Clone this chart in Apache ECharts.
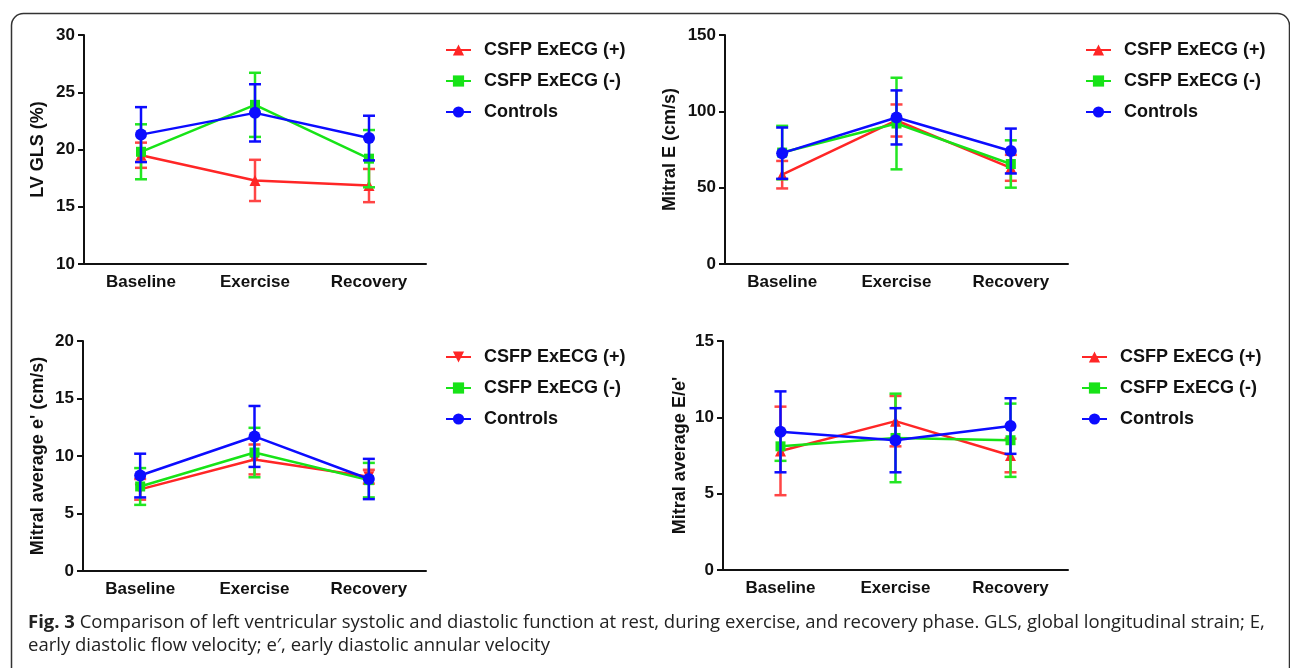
<!DOCTYPE html>
<html>
<head>
<meta charset="utf-8">
<script src="https://cdn.jsdelivr.net/npm/echarts@6/dist/echarts.min.js"></script>
<style>
html,body{margin:0;padding:0;background:#fff;}
#chart{width:1290px;height:668px;}
</style>
</head>
<body>
<div id="chart"></div>
<script>
// ---- Data ----
const categories = ['Baseline', 'Exercise', 'Recovery'];
const groupNames = ['CSFP ExECG (+)', 'CSFP ExECG (-)', 'Controls'];

// Panel A: LV GLS (%)
const glsPos = [19.5, 17.3, 16.85];
const glsPosSD = [1.1, 1.8, 1.45];
const glsNeg = [19.8, 23.9, 19.2];
const glsNegSD = [2.4, 2.8, 2.5];
const glsCtl = [21.3, 23.2, 21.0];
const glsCtlSD = [2.4, 2.5, 1.95];

// Panel B: Mitral E (cm/s)
const mitralEPos = [58.5, 94, 63];
const mitralEPosSD = [9, 10.5, 8.5];
const mitralENeg = [73, 92, 65.5];
const mitralENegSD = [17.5, 30, 15.5];
const mitralECtl = [72.6, 96, 74];
const mitralECtlSD = [16.8, 17.7, 14.7];

// Panel C: Mitral average e' (cm/s)
const ePrimePos = [7.1, 9.7, 8.2];
const ePrimePosSD = [0.9, 1.3, 0.6];
const ePrimeNeg = [7.35, 10.3, 7.9];
const ePrimeNegSD = [1.6, 2.15, 1.5];
const ePrimeCtl = [8.3, 11.7, 8.0];
const ePrimeCtlSD = [1.9, 2.65, 1.75];

// Panel D: Mitral average E/e'
const eeRatioPos = [7.8, 9.75, 7.5];
const eeRatioPosSD = [2.9, 1.65, 1.1];
const eeRatioNeg = [8.1, 8.65, 8.5];
const eeRatioNegSD = [0.95, 2.9, 2.4];
const eeRatioCtl = [9.05, 8.5, 9.43];
const eeRatioCtlSD = [2.65, 2.1, 1.82];

// Axis settings
const yNames = ['LV GLS (%)', 'Mitral E (cm/s)', "Mitral average e' (cm/s)", "Mitral average E/e'"];
const yMin = [10, 0, 0, 0];
const yMax = [30, 150, 20, 15];
const yStep = [5, 50, 5, 5];

const captionBold = 'Fig. 3';
const captionLine1 = ' Comparison of left ventricular systolic and diastolic function at rest, during exercise, and recovery phase. GLS, global longitudinal strain; E,';
const captionLine2 = 'early diastolic flow velocity; e\u2032, early diastolic annular velocity';

// ---- Styling / layout ----
const colors = ['#ff2626', '#17e317', '#0c0cff'];
const errColors = ['#ff4545', '#22e622', '#0c0cff'];
const symbols = ['triangle', 'rect', 'circle'];
const symbolSizes = [11, 10, 12];
const FONT = '"Liberation Sans", Arial, sans-serif';

const panels = [
  { means: [glsPos, glsNeg, glsCtl], sds: [glsPosSD, glsNegSD, glsCtlSD],
    grid: { left: 84, top: 35, width: 342, height: 229 }, nameGap: 37,
    legend: { left: 445, top: 41 }, redRotate: 0 },
  { means: [mitralEPos, mitralENeg, mitralECtl], sds: [mitralEPosSD, mitralENegSD, mitralECtlSD],
    grid: { left: 725, top: 35, width: 343, height: 229 }, nameGap: 46,
    legend: { left: 1085, top: 41 }, redRotate: 0 },
  { means: [ePrimePos, ePrimeNeg, ePrimeCtl], sds: [ePrimePosSD, ePrimeNegSD, ePrimeCtlSD],
    grid: { left: 83, top: 341, width: 343, height: 230 }, nameGap: 36,
    legend: { left: 445, top: 348 }, redRotate: 180 },
  { means: [eeRatioPos, eeRatioNeg, eeRatioCtl], sds: [eeRatioPosSD, eeRatioNegSD, eeRatioCtlSD],
    grid: { left: 723, top: 341, width: 345, height: 229 }, nameGap: 34,
    legend: { left: 1081, top: 348 }, redRotate: 0 }
];

function errRender(color) {
  return function (params, api) {
    const x = api.value(0);
    const lo = api.coord([x, api.value(1)]);
    const hi = api.coord([x, api.value(2)]);
    const w = 6;
    const style = { stroke: color, lineWidth: 2.5, fill: null };
    return {
      type: 'group',
      children: [
        { type: 'line', shape: { x1: lo[0], y1: lo[1], x2: hi[0], y2: hi[1] }, style: style },
        { type: 'line', shape: { x1: lo[0] - w, y1: lo[1], x2: lo[0] + w, y2: lo[1] }, style: style },
        { type: 'line', shape: { x1: hi[0] - w, y1: hi[1], x2: hi[0] + w, y2: hi[1] }, style: style }
      ]
    };
  };
}

const grids = [], xAxes = [], yAxes = [], series = [], legends = [];
panels.forEach(function (p, pi) {
  grids.push(Object.assign({ containLabel: false }, p.grid));
  xAxes.push({
    type: 'category', gridIndex: pi, data: categories, boundaryGap: true,
    axisLine: { lineStyle: { color: '#111', width: 2 } },
    axisTick: { alignWithLabel: true, length: 6, lineStyle: { color: '#111', width: 2 } },
    axisLabel: { color: '#111', fontFamily: FONT, fontWeight: 'bold', fontSize: 17, margin: 10 },
    splitLine: { show: false }
  });
  yAxes.push({
    type: 'value', gridIndex: pi, min: yMin[pi], max: yMax[pi], interval: yStep[pi],
    name: yNames[pi], nameLocation: 'middle', nameGap: p.nameGap, nameRotate: 90,
    nameTextStyle: { color: '#111', fontFamily: FONT, fontWeight: 'bold', fontSize: 18 },
    axisLine: { show: true, lineStyle: { color: '#111', width: 2 } },
    axisTick: { show: true, length: 6, lineStyle: { color: '#111', width: 2 } },
    axisLabel: { color: '#111', fontFamily: FONT, fontWeight: 'bold', fontSize: 17, margin: 9 },
    splitLine: { show: false }
  });
  const legendData = [];
  groupNames.forEach(function (gn, gi) {
    const sname = 'p' + pi + '|' + gn;
    legendData.push(sname);
    const means = p.means[gi], sds = p.sds[gi];
    series.push({
      type: 'line', name: sname, xAxisIndex: pi, yAxisIndex: pi,
      data: means,
      symbol: symbols[gi], symbolSize: symbolSizes[gi],
      symbolRotate: gi === 0 ? p.redRotate : 0,
      lineStyle: { color: colors[gi], width: 2.5 },
      itemStyle: { color: colors[gi] },
      z: 3 + gi * 2, animation: false
    });
    series.push({
      type: 'custom', name: 'err|' + sname, xAxisIndex: pi, yAxisIndex: pi,
      renderItem: errRender(errColors[gi]),
      encode: { x: 0, y: [1, 2] },
      data: categories.map(function (c, i) { return [i, means[i] - sds[i], means[i] + sds[i]]; }),
      z: 2 + gi * 2, silent: true
    });
  });
  legends.push({
    left: p.legend.left, top: p.legend.top, orient: 'vertical', padding: 0,
    data: legendData, itemWidth: 25, itemHeight: 14, itemGap: 13,
    formatter: function (n) { return n.split('|')[1]; },
    textStyle: { color: '#111', fontFamily: FONT, fontWeight: 'bold', fontSize: 18, lineHeight: 18, padding: [0, 0, 0, 8] },
    selectedMode: false
  });
});

const chart = echarts.init(document.getElementById('chart'), null, { renderer: 'canvas' });
chart.setOption({
  backgroundColor: '#fff',
  animation: false,
  grid: grids, xAxis: xAxes, yAxis: yAxes, legend: legends, series: series,
  graphic: [
    { type: 'rect', left: 9, top: 11, shape: { x: 0, y: 0, width: 1278, height: 680, r: 12 },
      style: { fill: null, stroke: '#333', lineWidth: 1.5 }, silent: true, z: 0 },
    { type: 'text', left: 28, top: 611,
      style: { text: '{b|' + captionBold + '}' + captionLine1 + '\n' + captionLine2,
        font: '18.5px "Open Sans", sans-serif', fill: '#222', lineHeight: 23,
        rich: { b: { fontFamily: '"Open Sans", sans-serif', fontWeight: 'bold', fontSize: 18.5, fill: '#222' } } } }
  ]
});
</script>
</body>
</html>
